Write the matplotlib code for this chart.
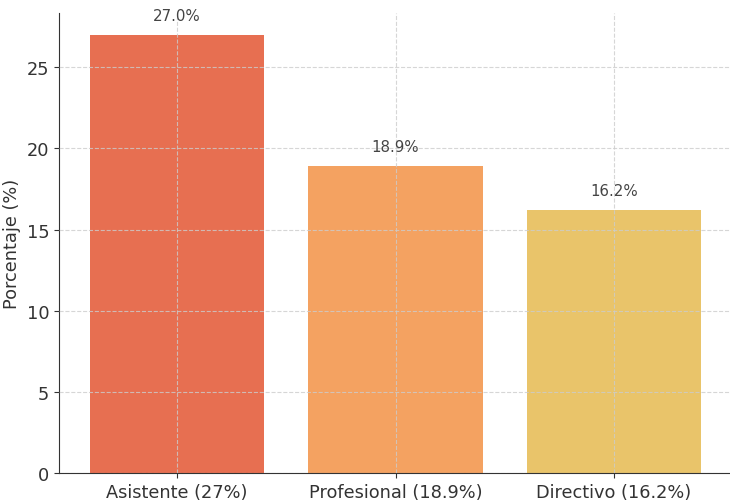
import matplotlib
matplotlib.use("Agg")
import matplotlib.pyplot as plt

categories = ["Asistente (27%)", "Profesional (18.9%)", "Directivo (16.2%)"]
values = [27.0, 18.9, 16.2]
colors = ["#E76F51", "#F4A261", "#E9C46A"]

W, H = 730, 502
fig = plt.figure(figsize=(W / 100, H / 100), dpi=100)
# the reference is cropped: axes run past the top and right edges
left, bottom_px, top_px, right_px = 59, 474, 14, 732
ax = fig.add_axes([left / W, (H - bottom_px) / H,
                   (right_px - left) / W, (bottom_px - top_px) / H])

bars = ax.bar(range(len(values)), values, width=0.8, color=colors)
for b, v in zip(bars, values):
    ax.text(b.get_x() + b.get_width() / 2, v + 0.75, f"{v:.1f}%",
            ha="center", va="bottom", fontsize=10.8, color="#444444")

ax.set_xlim(-0.54, 2.54)
ax.set_ylim(0, 28.35)
ax.set_xticks(range(len(categories)))
ax.set_xticklabels(categories)
ax.set_yticks([0, 5, 10, 15, 20, 25])
ax.tick_params(labelsize=12.8, colors="#333333")
ax.set_ylabel("Porcentaje (%)", fontsize=12.8, color="#333333")
ax.grid(True, linestyle="--", color="#cccccc", linewidth=0.8, alpha=0.8)
ax.set_axisbelow(False)
for s in ("top", "right"):
    ax.spines[s].set_visible(False)
for s in ("left", "bottom"):
    ax.spines[s].set_color("#333333")

fig.savefig("out.png", dpi=100)
